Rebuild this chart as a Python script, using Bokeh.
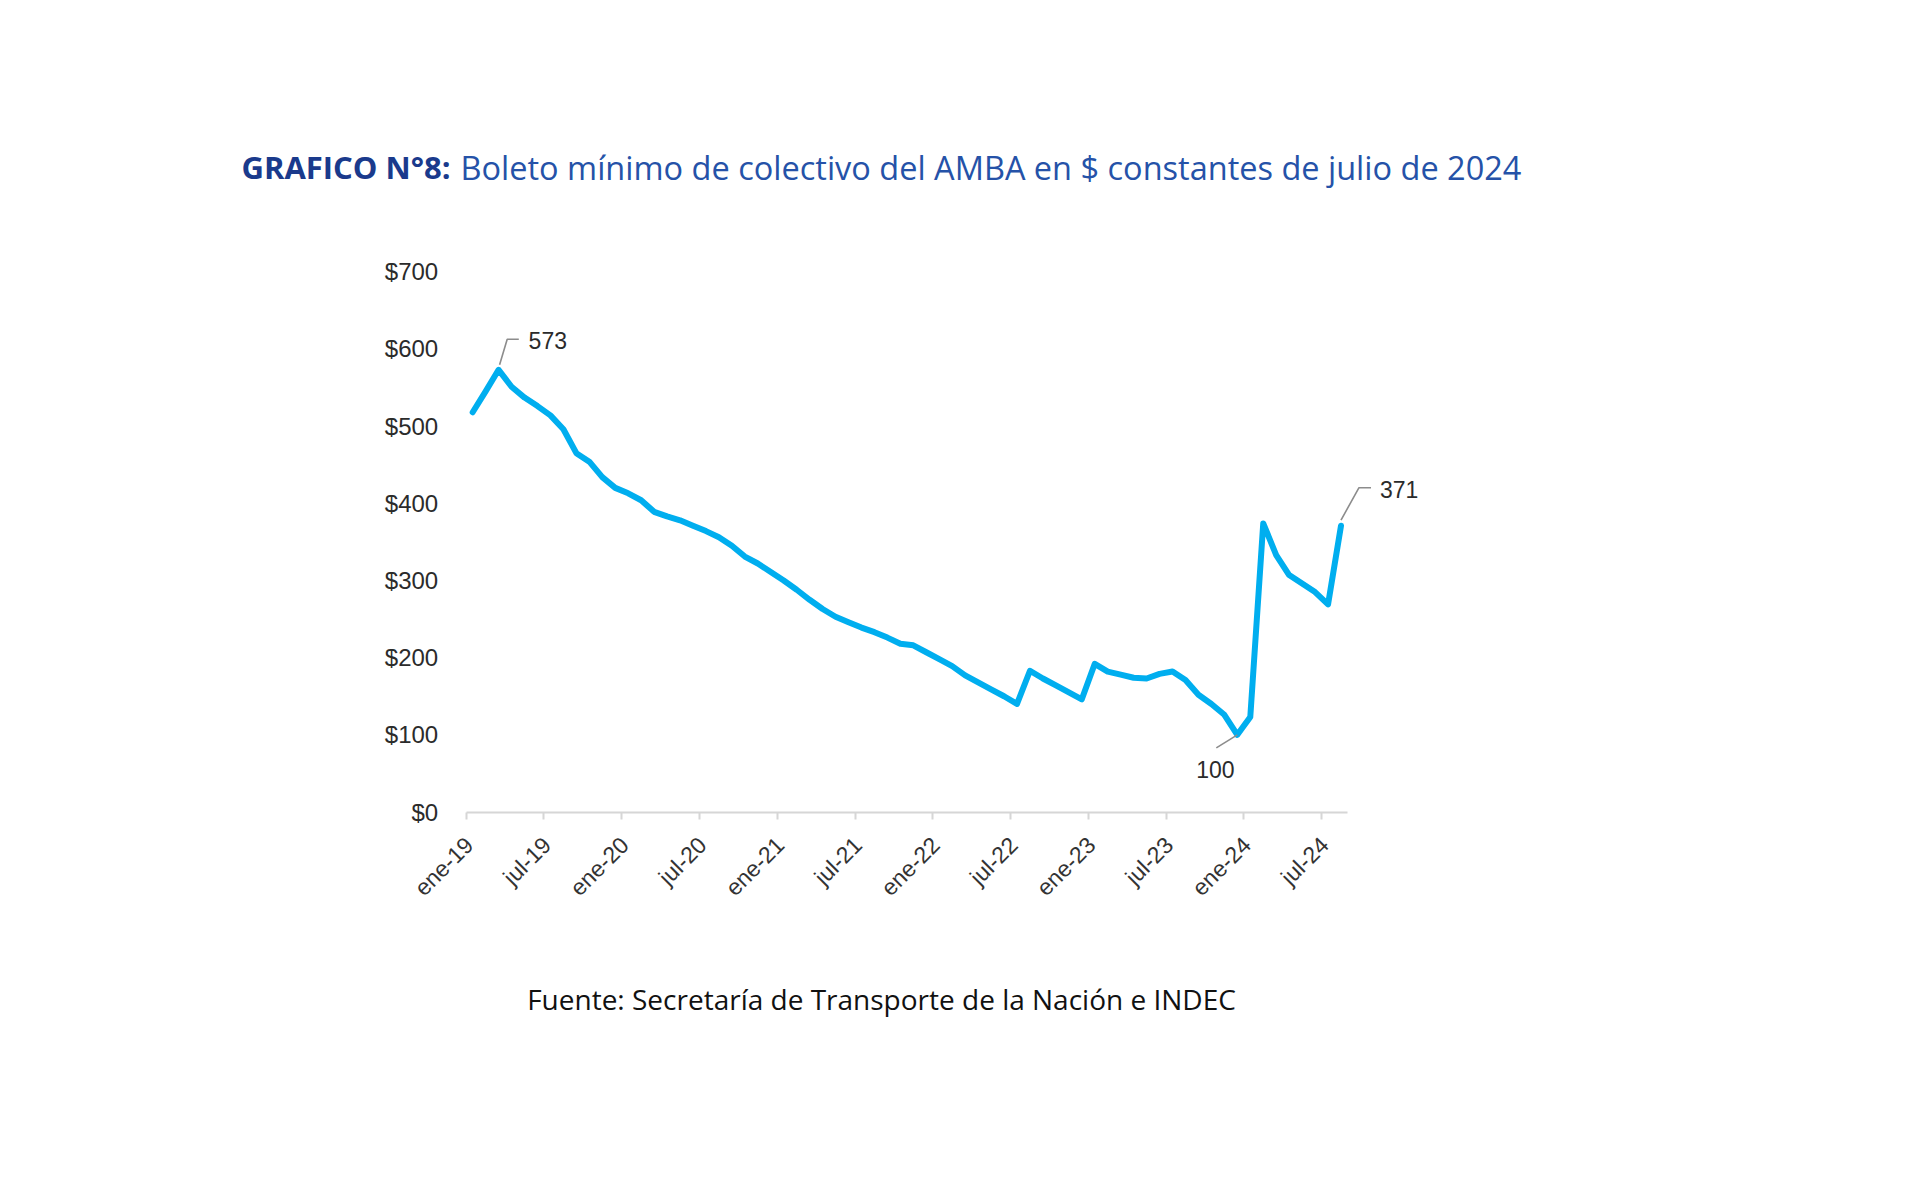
import math
from bokeh.plotting import figure
from bokeh.models import Range1d, FixedTicker, Label, ColumnDataSource
from bokeh.core.properties import value
from bokeh.embed import file_html
from bokeh.resources import INLINE

# ---------------- data ----------------
months = [f"{m}-{y}" for y in ["19", "20", "21", "22", "23", "24"]
          for m in ["ene", "feb", "mar", "abr", "may", "jun", "jul", "ago", "sep", "oct", "nov", "dic"]][:68]
boleto = [518, 545, 573, 551, 537, 526, 514, 496, 465, 454, 434, 420,
          413, 404, 389, 383, 378, 371, 364, 356, 345, 331, 322, 311,
          300, 288, 275, 263, 253, 246, 239, 233, 226, 218, 216, 207,
          198, 189, 177, 168, 159, 150, 140, 183, 173, 164, 155, 146,
          192, 182, 178, 174, 173, 179, 182, 171, 152, 140, 126, 100,
          123, 374, 333, 307, 296, 285, 269, 371]
x_tick_labels = ["ene-19", "jul-19", "ene-20", "jul-20", "ene-21", "jul-21",
                 "ene-22", "jul-22", "ene-23", "jul-23", "ene-24", "jul-24"]
y_tick_values = [0, 100, 200, 300, 400, 500, 600, 700]
y_tick_labels = ["$0", "$100", "$200", "$300", "$400", "$500", "$600", "$700"]
annot_idx = [2, 59, 67]
annot_txt = ["573", "100", "371"]

title_bold = "GRAFICO N°8:"
title_rest = "Boleto mínimo de colectivo del AMBA en $ constantes de julio de 2024"
source_txt = "Fuente: Secretaría de Transporte de la Nación e INDEC"

# ---------------- layout ----------------
W, H = 1904, 1180
BL, BR, BT, BB = 150, 60, 60, 140
OFF = 0.0                 # page offset of the canvas
X0, Y0 = 465.7, 811.5     # page position of data origin (x=0, $0)
PX_X = 12.96              # px per month
PX_Y = 0.7717             # px per $
NX = len(boleto)

x_start = (OFF + BL - X0) / PX_X
x_end = (OFF + W - BR - X0) / PX_X
y_end = (Y0 - (OFF + BT)) / PX_Y
y_start = (Y0 - (OFF + H - BB)) / PX_Y

def dx(px):
    return px / PX_X

def dy(px):
    return -px / PX_Y

def page_to_data(px, py):
    return (px - X0) / PX_X, (Y0 - py) / PX_Y

p = figure(width=W, height=H, output_backend="svg", toolbar_location=None,
           x_range=Range1d(x_start, x_end), y_range=Range1d(y_start, y_end),
           min_border_left=BL, min_border_right=BR, min_border_top=BT, min_border_bottom=BB)
p.outline_line_color = None
p.background_fill_color = "white"
p.border_fill_color = "white"
p.xgrid.visible = False
p.ygrid.visible = False

xs = [i + 0.5 for i in range(NX)]
src = ColumnDataSource(dict(x=xs, y=boleto, m=months))
p.line("x", "y", source=src, line_color="#00AEEF", line_width=6, line_join="round", line_cap="round")

# x axis (placed at $0, limited to the data span)
tick_pos = [6 * k for k in range(len(x_tick_labels))]
xa = p.xaxis[0]
xa.fixed_location = 0
xa.bounds = (0, NX)
xa.ticker = FixedTicker(ticks=tick_pos)
xa.major_label_overrides = {t: "" for t in tick_pos}
xa.axis_line_color = "#d6d6d6"
xa.axis_line_width = 2
xa.major_tick_line_color = "#d6d6d6"
xa.major_tick_line_width = 2
xa.major_tick_in = 0
xa.major_tick_out = 7
xa.minor_tick_line_color = None

# rotated category labels (right end near each tick)
p.text(x=tick_pos, y=[0] * len(tick_pos), text=x_tick_labels, angle=math.pi / 4,
       x_offset=3, y_offset=29, text_align="right", text_baseline="middle",
       text_font=value("Liberation Sans"), text_font_size="23px", text_color="#333333")

# y axis (placed at x=0)
ya = p.yaxis[0]
ya.fixed_location = 0
ya.ticker = FixedTicker(ticks=y_tick_values)
ya.major_label_overrides = {v: l for v, l in zip(y_tick_values, y_tick_labels)}
ya.axis_line_color = None
ya.major_tick_line_color = None
ya.minor_tick_line_color = None
ya.major_tick_out = 0
ya.major_tick_in = 0
ya.major_label_standoff = 28
ya.major_label_text_font = "Liberation Sans"
ya.major_label_text_font_size = "24px"
ya.major_label_text_color = "#2b2b2b"

# annotations with leader lines
leader_px = {
    "573": [(1, -5), (8.6, -30.6), (20.2, -30.6)],
    "371": [(0, -5.6), (18, -38), (30, -38)],
    "100": [(0, 0), (-21, 13)],
}
text_px = {"573": (30, -29, "left"), "371": (39, -36, "left"), "100": (-22, 35, "center")}
for idx, t in zip(annot_idx, annot_txt):
    x0, y0 = xs[idx], boleto[idx]
    pts = leader_px[t]
    p.line([x0 + dx(a) for a, b in pts], [y0 + dy(b) for a, b in pts],
           line_color="#8c8c8c", line_width=1.6)
    ox, oy, al = text_px[t]
    p.add_layout(Label(x=x0 + dx(ox), y=y0 + dy(oy), text=t, text_align=al,
                       text_baseline="middle", text_font="Liberation Sans",
                       text_font_size="23px", text_color="#2b2b2b"))

# title & source
tx, ty = page_to_data(241, 166.5)
p.add_layout(Label(x=tx, y=ty, text=title_bold, text_align="left", text_baseline="middle",
                   text_font="Open Sans", text_font_style="bold", text_font_size="31px",
                   text_color="#1A3A8C"))
tx2, _ = page_to_data(460, 166.5)
p.add_layout(Label(x=tx2, y=ty, text=title_rest, text_align="left", text_baseline="middle",
                   text_font="Open Sans", text_font_size="32.5px", text_color="#2552A8"))
sx, sy = page_to_data(881, 998)
p.add_layout(Label(x=sx, y=sy, text=source_txt, text_align="center", text_baseline="middle",
                   text_font="Open Sans", text_font_size="28px", text_color="#111111"))

open("out.html", "w").write(file_html(p, INLINE))
